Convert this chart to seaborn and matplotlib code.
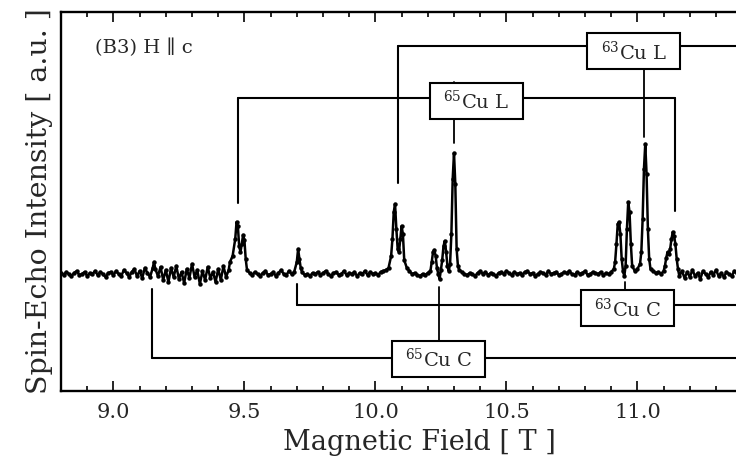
import matplotlib
matplotlib.use("Agg")
import matplotlib.pyplot as plt
from matplotlib.patches import Rectangle
from matplotlib.ticker import MultipleLocator, NullLocator
import seaborn as sns
import pandas as pd

# Cu NMR field-swept spin-echo spectrum, H || c
field = [
    8.80, 8.81, 8.82, 8.83, 8.84, 8.85, 8.86, 8.87, 8.88, 8.89,
    8.90, 8.91, 8.92, 8.93, 8.94, 8.95, 8.96, 8.97, 8.98, 8.99,
    9.00, 9.01, 9.02, 9.03, 9.04, 9.05, 9.06, 9.07, 9.08, 9.09,
    9.10, 9.11, 9.12, 9.13, 9.14, 9.15, 9.155, 9.16, 9.17, 9.18,
    9.19, 9.20, 9.21, 9.22, 9.23, 9.24, 9.25, 9.26, 9.27, 9.28,
    9.29, 9.30, 9.31, 9.32, 9.33, 9.34, 9.35, 9.36, 9.37, 9.38,
    9.39, 9.40, 9.41, 9.42, 9.43, 9.44, 9.445, 9.455, 9.465, 9.47,
    9.475, 9.48, 9.485, 9.49, 9.495, 9.50, 9.505, 9.51, 9.52, 9.53,
    9.54, 9.55, 9.56, 9.57, 9.58, 9.59, 9.60, 9.61, 9.62, 9.63,
    9.64, 9.65, 9.66, 9.67, 9.68, 9.69, 9.70, 9.705, 9.71, 9.715,
    9.72, 9.73, 9.74, 9.75, 9.76, 9.77, 9.78, 9.79, 9.80, 9.81,
    9.82, 9.83, 9.84, 9.85, 9.86, 9.87, 9.88, 9.89, 9.90, 9.91,
    9.92, 9.93, 9.94, 9.95, 9.96, 9.97, 9.98, 9.99, 10.00, 10.01,
    10.02, 10.03, 10.04, 10.05, 10.06, 10.065, 10.07, 10.075, 10.08, 10.085,
    10.09, 10.095, 10.10, 10.105, 10.11, 10.12, 10.13, 10.14, 10.15, 10.16,
    10.17, 10.18, 10.19, 10.20, 10.21, 10.215, 10.22, 10.225, 10.23, 10.235,
    10.24, 10.245, 10.25, 10.255, 10.26, 10.265, 10.27, 10.275, 10.28, 10.285,
    10.29, 10.295, 10.30, 10.305, 10.31, 10.315, 10.32, 10.33, 10.34, 10.35,
    10.36, 10.37, 10.38, 10.39, 10.40, 10.41, 10.42, 10.43, 10.44, 10.45,
    10.46, 10.47, 10.48, 10.49, 10.50, 10.51, 10.52, 10.53, 10.54, 10.55,
    10.56, 10.57, 10.58, 10.59, 10.60, 10.61, 10.62, 10.63, 10.64, 10.65,
    10.66, 10.67, 10.68, 10.69, 10.70, 10.71, 10.72, 10.73, 10.74, 10.75,
    10.76, 10.77, 10.78, 10.79, 10.80, 10.81, 10.82, 10.83, 10.84, 10.85,
    10.86, 10.87, 10.88, 10.89, 10.90, 10.91, 10.915, 10.92, 10.925, 10.93,
    10.935, 10.94, 10.945, 10.95, 10.955, 10.96, 10.965, 10.97, 10.975, 10.98,
    10.99, 11.00, 11.01, 11.015, 11.02, 11.025, 11.03, 11.035, 11.04, 11.045,
    11.05, 11.06, 11.07, 11.08, 11.09, 11.10, 11.105, 11.11, 11.115, 11.12,
    11.125, 11.13, 11.135, 11.14, 11.145, 11.15, 11.155, 11.16, 11.17, 11.18,
    11.19, 11.20, 11.21, 11.22, 11.23, 11.24, 11.25, 11.26, 11.27, 11.28,
    11.29, 11.30, 11.31, 11.32, 11.33, 11.34, 11.35, 11.36, 11.37, 11.38,
    11.39, 11.40, 11.41, 11.42, 11.43, 11.44, 11.45,
]
echo = [
    1, -1, 2, 0, -2, 1, 3, -1, 0, 2,
    -2, 1, 0, 3, -1, 2, 0, -3, 1, 2,
    -1, 3, 0, -2, 4, 1, -3, 2, 5, -2,
    3, -4, 6, 1, -3, 6, 12, 5, -2, 7,
    -6, 4, -8, 6, -3, 8, -5, 2, -9, 5,
    -4, 10, -3, 4, -10, 3, -6, 7, -4, 2,
    -8, 5, -6, 8, -3, 4, 12, 18, 35, 52,
    48, 28, 22, 30, 39, 34, 15, 4, 1, -1,
    2, 0, -2, 1, 3, -1, 0, 2, -2, 1,
    4, 0, -1, 3, 0, 2, 12, 25, 15, 6,
    2, -1, 0, -2, 1, 0, 2, -1, 1, 3,
    0, -2, 1, 2, -1, 0, 3, -1, 1, 0,
    2, -2, 1, 0, 3, -1, 2, 0, 1, -1,
    2, 3, 4, 6, 18, 35, 62, 70, 45, 25,
    22, 35, 48, 40, 14, 6, 3, 0, 1, -1,
    -2, 0, -1, 1, 3, 12, 22, 24, 18, 6,
    0, -5, 4, 14, 28, 33, 22, 8, 3, 10,
    40, 95, 121, 90, 25, 8, 4, 2, 0, -1,
    1, 0, -2, 1, 3, 0, 2, -1, 1, 0,
    -2, 1, 2, 0, 3, 1, -1, 2, 0, 1,
    -1, 2, 3, 0, 1, -2, 0, 2, 1, -1,
    3, 0, 1, 2, -1, 0, 2, 1, 3, 0,
    -1, 2, 0, 1, 3, -1, 0, 2, 1, 0,
    2, -1, 1, 0, 2, 5, 12, 30, 50, 52,
    40, 15, 3, -2, 8, 45, 72, 62, 30, 8,
    3, 5, 10, 22, 55, 105, 130, 100, 45, 15,
    5, 3, 1, 2, 0, 3, 8, 16, 22, 20,
    25, 35, 42, 38, 30, 15, 5, -2, 3, -4,
    2, -3, 4, -2, 1, -5, 3, 0, -3, 2,
    -1, 4, -2, 1, -3, 2, 0, -2, 3, 1,
    -1, 2, 0, 3, -1, 1, -2,
]

# Line-assignment brackets
labels = ["$^{63}$Cu L", "$^{65}$Cu L", "$^{63}$Cu C", "$^{65}$Cu C"]
box_x = [10.987, 10.384, 10.964, 10.240]
box_y = [223, 173.5, -34, -84.5]
bracket_y = [228, 176, -31, -84]
legs = [[(10.088, 91)], [(9.477, 71), (11.145, 63)], [(9.702, -10)], [(9.149, -15)]]
pointer = [(11.027, 137), (10.301, 131), (10.954, -8), (10.244, -13)]
bracket_right = [11.6, 11.145, 11.6, 11.6]

tick_values = [9.0, 9.5, 10.0, 10.5, 11.0]
tick_labels = ["9.0", "9.5", "10.0", "10.5", "11.0"]

sns.set_theme(style="ticks")
plt.rcParams["font.family"] = ["DejaVu Serif"]
plt.rcParams["mathtext.fontset"] = "dejavuserif"

fig = plt.figure(figsize=(7.36, 4.63), dpi=100)
ax = fig.add_axes([61 / 736, 72 / 463, 716 / 736, 379 / 463])

df = pd.DataFrame({"field": field, "echo": echo})
sns.lineplot(data=df, x="field", y="echo", ax=ax, color="black", linewidth=1.8,
             marker="o", markersize=3.2, markeredgewidth=0, estimator=None, sort=False)

ax.set_xlim(8.8, 8.8 + 716 / 262)
ax.set_ylim(-117, 262)

bw, bh = 0.355, 36
for lab, bx, by, yb, lg, (px, py), xr in zip(labels, box_x, box_y, bracket_y, legs, pointer, bracket_right):
    x_left = min(x for x, _ in lg)
    ax.plot([x_left, xr], [yb, yb], color="black", lw=1.5, zorder=3)
    for lx, ly in lg:
        ax.plot([lx, lx], [yb, ly], color="black", lw=1.5, zorder=3)
    edge = by - bh / 2 if py > by else by + bh / 2
    ax.plot([px, px], [edge, py], color="black", lw=1.3, zorder=3)
    ax.add_patch(Rectangle((bx - bw / 2, by - bh / 2), bw, bh, facecolor="white",
                           edgecolor="black", lw=1.5, zorder=4))
    ax.text(bx, by - 1, lab, ha="center", va="center", fontsize=14, zorder=5)

ax.text(0.048, 0.905, "(B3) H \u2225 c", transform=ax.transAxes, fontsize=14,
        ha="left", va="center")

ax.set_xticks(tick_values)
ax.set_xticklabels(tick_labels)
ax.xaxis.set_minor_locator(MultipleLocator(0.1))
ax.yaxis.set_major_locator(NullLocator())
ax.tick_params(axis="x", which="both", direction="in", top=True, bottom=True, labelsize=15,
               width=1.4, pad=9)
ax.tick_params(axis="x", which="major", length=7)
ax.tick_params(axis="x", which="minor", length=3.5)
for s in ax.spines.values():
    s.set_linewidth(1.7)
    s.set_color("black")

ax.set_xlabel("Magnetic Field [ T ]", fontsize=19.5, labelpad=5)
ax.set_ylabel("Spin-Echo Intensity [ a.u. ]", fontsize=20.5, labelpad=6)

fig.savefig("out.png", dpi=100)
